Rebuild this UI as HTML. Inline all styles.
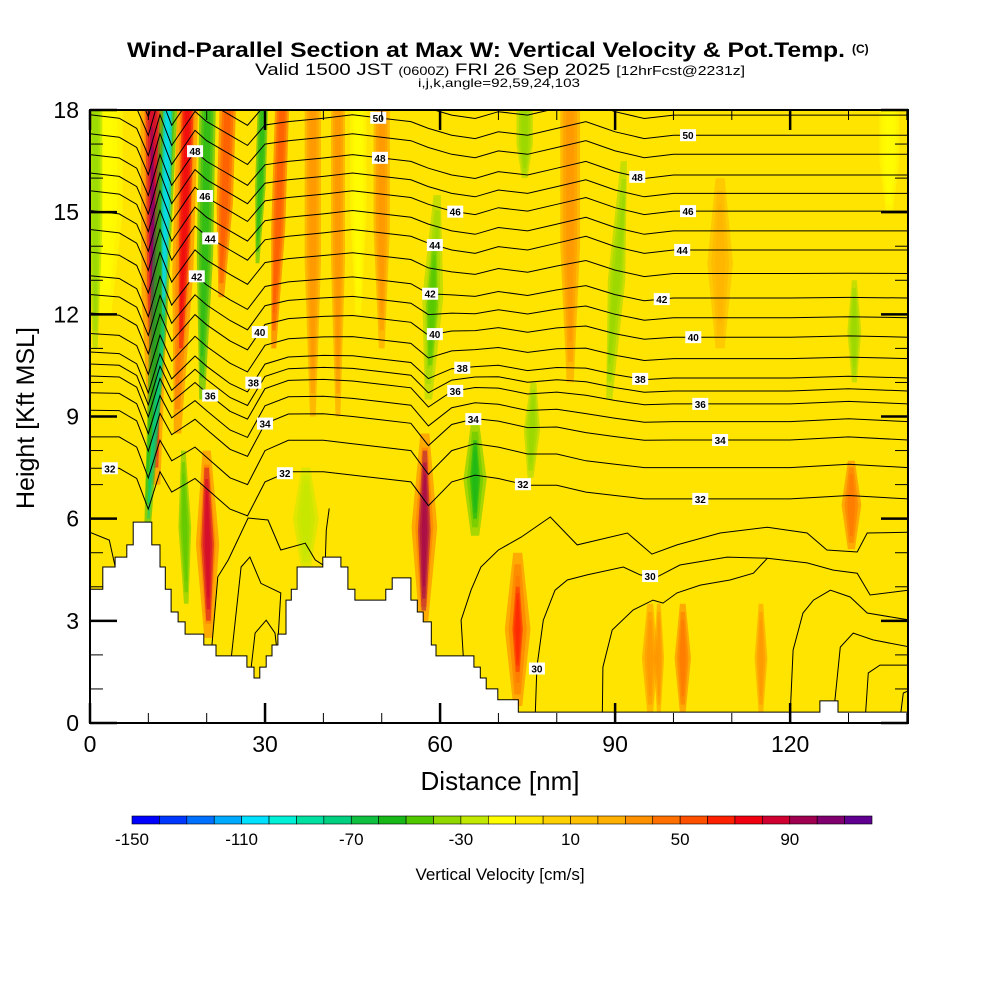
<!DOCTYPE html>
<html><head><meta charset="utf-8"><style>
html,body{margin:0;padding:0;background:#fff;}
svg{display:block;font-family:"Liberation Sans",Arial,sans-serif;}
</style></head><body>
<svg id="chart" width="1000" height="1000" viewBox="0 0 1000 1000" xmlns="http://www.w3.org/2000/svg">
<defs>
<clipPath id="plotClip"><rect x="90" y="110" width="818" height="613"/></clipPath>
</defs>
<text x="127" y="57" font-size="21" font-weight="bold" textLength="718" lengthAdjust="spacingAndGlyphs">Wind-Parallel Section at Max W: Vertical Velocity &amp; Pot.Temp.</text>
<text x="852" y="53" font-size="12" font-weight="bold">(C)</text>
<text x="255" y="75" font-size="17" textLength="490" lengthAdjust="spacingAndGlyphs">Valid 1500 JST <tspan font-size="12">(0600Z)</tspan> FRI 26 Sep 2025 <tspan font-size="13">[12hrFcst@2231z]</tspan></text>
<text x="418" y="87" font-size="12" textLength="162" lengthAdjust="spacingAndGlyphs">i,j,k,angle=92,59,24,103</text>
<g id="field" clip-path="url(#plotClip)">
<rect x="90" y="110" width="818" height="613" fill="#ffe400"/>
<g id="bands"></g>
</g>
<g id="contours" clip-path="url(#plotClip)" fill="none" stroke="#000" stroke-width="1"></g>
<g id="terrain" clip-path="url(#plotClip)"></g>
<g id="labels"></g>
<rect x="90" y="110" width="818" height="613" fill="none" stroke="#000" stroke-width="2"/>
<g id="axes"></g>
<text x="500" y="790" text-anchor="middle" font-size="26">Distance [nm]</text>
<text transform="translate(34,418) rotate(-90)" text-anchor="middle" font-size="25">Height [Kft MSL]</text>
<g id="colorbar"></g>
<text x="500" y="880" text-anchor="middle" font-size="17">Vertical Velocity [cm/s]</text>
</svg>
<script>
// ---- data ----
const palette=["#0000ff","#0038ff","#0070ff","#00aaff","#00e0ff","#00f0d8","#00e0a0","#00d080","#10c040","#18b818","#50c800","#90d800","#c0e800","#ffff00","#ffe800","#ffd000","#ffc000","#ffb000","#ff9000","#ff7000","#ff5000","#ff2000","#f00010","#d00030","#a00050","#800070","#600090"];
const cbTickValues=[-150,-110,-70,-30,10,50,90];
const xTickValues=[0,30,60,90,120];
const yTickValues=[0,3,6,9,12,15,18];
const terrX=[0,2.2,4.3,6.3,7.4,10.6,12.0,12.9,13.9,15.1,16.3,19.5,21.6,26.9,28.1,29.1,30.2,31.2,32.2,33.6,34.5,35.5,39.9,43.0,44.2,45.4,50.7,51.8,55.0,56.1,57.1,58.5,59.3,65.8,66.9,67.9,69.9,73.4,125.1,128.2,140.2];
const terrH=[3.93,4.58,4.87,5.23,5.9,5.23,4.58,3.93,3.26,2.97,2.61,2.29,1.97,1.64,1.32,1.64,1.97,2.29,2.61,3.61,3.93,4.58,4.87,4.58,3.93,3.61,3.93,4.26,3.61,3.26,2.97,2.29,1.97,1.64,1.32,1.0,0.68,0.32,0.65,0.32];
// bands: [xTopNm, xBotNm, halfWidthNm, topKft, botKft, w]
const bands=[
[2.6,2.6,3,18,12,-20],[0.9,0.9,1.2,18,11,-40],
[16.8,15.0,1.8,18,8.5,40],[16.8,15.6,1.0,18,11,70],
[10.8,11.3,2.2,18,7,40],[10.7,11.3,1.2,18,7.5,80],[10.6,11.0,0.6,17.5,10,100],
[13.6,9.8,1.5,18,5.5,-60],[13.4,12.6,0.8,18,12,-110],[12.8,10.0,0.6,12.5,6,-80],
[20.2,19.2,1.4,18,9.5,-60],[16.0,16.5,1.1,8,3.5,-50],
[20.0,20.3,2.0,8,2.5,40],[20.0,20.3,1.1,7.5,3.0,80],
[23.7,22.5,1.4,18,12.5,50],[29.7,28.7,0.9,18,13.5,-60],
[33,31.5,1.2,18,11,50],[38.2,38.2,1.4,18,9,30],[42.5,42.5,1.2,18,9,30],
[46,46,1.4,18,12,-20],[50,50,1.4,18,11,30],
[37,37,2.2,7.5,4.5,-30],
[59.5,58,1.8,15.5,9.5,-40],[59,58.3,1.0,14,10.5,-50],
[57.4,57.2,2.2,8.5,3,40],[57.4,57.2,1.1,8.0,3.3,90],
[66,66,2.0,8.8,5.5,-50],[66,66,0.9,8.3,6,-60],
[73.3,73.3,2.2,5,0.5,40],[73.3,73.3,0.9,4,1.5,60],
[74.5,74.5,1.4,18,16,-40],[76,75.5,1.4,10,7.2,-40],
[82.3,82.3,1.7,18,10,30],[91.5,89,1.5,16.5,9.5,-40],
[131,131,1.2,13,10,-40],[130.5,130.5,1.7,7.7,5.1,40],
[96,96,1.4,3.5,0.3,30],[101.6,101.6,1.4,3.5,0.3,40],[97.5,97.5,0.9,3.5,0.3,30],[115,115,1.1,3.5,0.3,30],
[137,137,1.7,18,15,-20],[108,108,2.2,16,11,20]
];
const dispX=[0,5,8,10,12,14,16,18,20,24,27,30,34,40,45,50,55,58,62,66,70,75,80,85,90,95,100,110,120,130,140.2];
const dispHigh=[0.6,0.5,0.2,-0.6,0.6,-0.3,0.2,0.7,0.4,0,-0.3,0.3,0.4,0.5,0.6,0.5,0.4,0.2,0,-0.1,0.1,0,0.2,0.4,0.1,-0.1,0,0,0,0,0];
const dispLow=[0.9,0.9,0.6,-0.3,0.8,0.2,0.4,0.6,0.3,-0.3,-0.5,0.5,0.8,0.8,0.7,0.6,0.5,-0.2,0.5,0.7,0.6,0.4,0.4,0.2,0.1,0,0,0,0,0.1,0];
const levels=[32,33,34,35,36,37,38,39,40,41,42,43,44,45,46,47,48,49,50,51,52];
const levelBase=[6.58,7.5,8.31,8.85,9.37,9.75,10.13,10.7,11.33,11.9,12.48,13.2,13.89,14.45,15.03,15.55,16.09,16.7,17.26,17.85,18.4];
const c30=[[76.3,0.2],[76.6,1.64],[77.7,3.02],[79.7,3.9],[81.8,4.2],[85.2,4.35],[91.4,4.58],[94.3,4.35],[97.2,4.29],[101.1,4.64],[109.2,4.87],[116.1,4.84],[122.9,4.7],[127.4,4.49],[131.5,4.4],[133.7,3.76],[140.2,3.9]];
const c31=[[64,1.9],[63.6,3.02],[65.3,3.9],[67,4.58],[70,5.08],[73.9,5.46],[78.9,6.05],[83.5,5.23],[92.1,5.58],[96.3,4.96],[100.6,5.23],[108,5.58],[116.1,5.75],[122.9,5.58],[126.3,5.08],[131.5,5.02],[133.2,5.58],[140.2,5.6]];
const dome1=[[87.8,0.2],[87.9,1.64],[89.5,2.73],[93.1,3.32],[96.5,3.61],[98.2,3.52],[100.6,3.82],[104.6,4.05],[109.7,4.2],[113.7,4.4],[116.1,4.84]];
const dome2=[[120,0.2],[120.5,2.14],[122.2,3.23],[124,3.61],[126.9,3.9],[130.3,3.7],[133.2,3.23],[140.6,3.02]];
const dome3=[[127.4,0.2],[128.6,2.23],[130.8,2.64],[134.2,2.44],[140.6,2.23]];
const dome4=[[132.9,0.2],[133.4,1.47],[135.4,1.7],[140.6,1.7]];
const dome5=[[138.9,0.2],[139.4,0.88],[140.6,0.97]];
const valley1=[[20.7,1.9],[21.9,4.29],[23.7,4.79],[27.1,6.02],[30.5,5.96],[32.7,5.08],[36.9,5.28],[38.6,4.79],[40.3,4.6],[40.5,5.67],[41,6.3]];
const valley2=[[24.2,1.9],[25.9,4.58],[27.4,4.87],[29.3,4.1],[32.7,3.82],[32.2,2.4]];
const valley3=[[27.4,1.3],[28.3,2.64],[30.2,3.02],[31.7,2.64],[32,2.2]];
const valley4=[[0,5.6],[3.3,5.37],[4.3,4.6]];
const labelLevels=[50,50,48,48,48,46,46,46,44,44,44,42,42,42,40,40,40,38,38,38,36,36,36,34,34,34,32,32,32,32];
const labelNm=[49.4,102.5,18,49.7,93.8,19.7,62.6,102.5,20.6,59.1,101.5,18.3,58.3,98,29.1,59.1,103.4,28,63.8,94.3,20.6,62.6,104.6,30,65.7,108,3.4,33.4,74.2,104.6];

// ---- scales ----
const NS="http://www.w3.org/2000/svg";
const X=nm=>90+nm*(818/140.2);
const Y=k=>723-k*(613/18);
function mk(tag,attrs,parent){const e=document.createElementNS(NS,tag);for(const k in attrs)e.setAttribute(k,attrs[k]);parent.appendChild(e);return e;}
const colorOf=v=>palette[Math.max(0,Math.min(26,Math.floor((v+150)/10)))];
function interp(xs,ys,x){if(x<=xs[0])return ys[0];for(let i=1;i<xs.length;i++){if(x<=xs[i]){const t=(x-xs[i-1])/(xs[i]-xs[i-1]);return ys[i-1]+t*(ys[i]-ys[i-1]);}}return ys[ys.length-1];}
function levelHeight(i,nm){const L=levels[i];const f=Math.max(0,Math.min(1,(L-33)/11));return levelBase[i]+interp(dispX,dispLow,nm)*(1-f)+interp(dispX,dispHigh,nm)*f;}

// bands: soft spindle shapes drawn as stacked translucent layers
const gB=document.getElementById('bands');
bands.forEach(b=>{
  const top=b[3],bot=b[4],mid=(b[0]+b[1])/2,midK=(top+bot)/2;
  const topOpen=top>=17.9;
  [1.0,0.7,0.4].forEach(s=>{
    const hw=b[2]*s;
    const shrink=(1-s)*(top-bot)*0.25;
    const tk=topOpen?18.5:top-shrink, bk=bot+shrink;
    const tw=topOpen?hw:hw*0.35, bw=hw*0.35;
    const pts=[[X(b[0]-tw),Y(tk)],[X(b[0]+tw),Y(tk)],[X(mid+hw),Y(midK)],[X(b[1]+bw),Y(bk)],[X(b[1]-bw),Y(bk)],[X(mid-hw),Y(midK)]];
    const p=mk('polygon',{points:pts.map(q=>q[0].toFixed(1)+','+q[1].toFixed(1)).join(' '),fill:colorOf(b[5]),'fill-opacity':0.5},gB);
    
    
  });
});

// contours
const gC=document.getElementById('contours');
levels.forEach((L,i)=>{
  const pts=dispX.map(x=>X(x).toFixed(1)+','+Y(levelHeight(i,x)).toFixed(1));
  const pl=mk('polyline',{points:pts.join(' ')},gC);
  
  
});
[[c30,'isentrope-30'],[c31,'isentrope-31'],[dome1,'isentrope-dome'],[dome2,'isentrope-dome'],[dome3,'isentrope-dome'],[dome4,'isentrope-dome'],[dome5,'isentrope-dome'],[valley1,'isentrope-valley'],[valley2,'isentrope-valley'],[valley3,'isentrope-valley'],[valley4,'isentrope-valley']].forEach(([arr,nm])=>{
  const pl=mk('polyline',{points:arr.map(p=>X(p[0]).toFixed(1)+','+Y(p[1]).toFixed(1)).join(' ')},gC);
  
  
});

// terrain
const gT=document.getElementById('terrain');
let d='M'+X(0)+','+Y(0);
for(let i=0;i<terrH.length;i++){d+=' L'+X(terrX[i]).toFixed(1)+','+Y(terrH[i]).toFixed(1)+' L'+X(terrX[i+1]).toFixed(1)+','+Y(terrH[i]).toFixed(1);}
d+=' L'+X(140.2)+','+Y(0)+' Z';
const tp=mk('path',{d:d,fill:'#fff',stroke:'#000','stroke-width':1},gT);



// contour labels
const gL=document.getElementById('labels');
function addLabel(txt,x,y){
  const g=mk('g',{},gL);
  
  
  mk('rect',{x:x-8,y:y-6,width:16,height:12,fill:'#fff'},g);
  const t=mk('text',{x:x,y:y+4,'text-anchor':'middle','font-size':10,'font-weight':'bold'},g);
  t.textContent=txt;
}
labelLevels.forEach((L,k)=>{const i=levels.indexOf(L);addLabel(String(L),X(labelNm[k]),Y(levelHeight(i,labelNm[k])));});
addLabel('30',X(96),Y(interp(c30.map(p=>p[0]),c30.map(p=>p[1]),96)));
addLabel('30',X(76.6),Y(1.6));

// axes ticks
const gA=document.getElementById('axes');
for(let v=0;v<=140;v+=10){
  const major=v%30===0;const len=major?20:10;
  [[723,723-len],[110,110+len]].forEach(s=>{const l=mk('line',{x1:X(v),x2:X(v),y1:s[0],y2:s[1],stroke:'#000','stroke-width':major?2.5:1},gA);
  });
}
for(let v=0;v<=18;v+=1){
  const major=v%3===0;const len=major?27:13;
  [[90,90+len],[908,908-len]].forEach(s=>{const l=mk('line',{x1:s[0],x2:s[1],y1:Y(v),y2:Y(v),stroke:'#000','stroke-width':major?2.5:1},gA);
  });
}
xTickValues.forEach(v=>{const t=mk('text',{x:X(v),y:752,'text-anchor':'middle','font-size':23},gA);t.textContent=v;
  });
yTickValues.forEach(v=>{const t=mk('text',{x:79,y:Y(v)+8,'text-anchor':'end','font-size':23},gA);t.textContent=v;
  });

// colorbar
const gCB=document.getElementById('colorbar');
const cbX0=132,cbW=740/27;
palette.forEach((c,i)=>{const r=mk('rect',{x:cbX0+i*cbW,y:816,width:cbW,height:8,fill:c,stroke:'#000','stroke-width':0.6},gCB);
  });
cbTickValues.forEach(v=>{const t=mk('text',{x:cbX0+(v+150)/10*cbW,y:845,'text-anchor':'middle','font-size':17},gCB);t.textContent=v;
  });
</script>
</body></html>
